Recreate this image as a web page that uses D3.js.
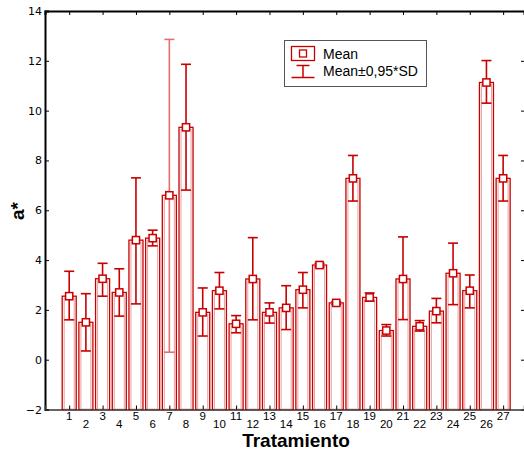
<!DOCTYPE html>
<html>
<head>
<meta charset="utf-8">
<script src="https://cdn.jsdelivr.net/npm/d3@7"></script>
<style>
  body { margin: 0; background: #fff; }
  svg { display: block; }
</style>
</head>
<body>
<div id="chart"></div>
<script>
// values
var tratamientos = d3.range(1, 28);
var means = [2.55, 1.5, 3.25, 2.7, 4.8, 4.88, 6.6, 9.33, 1.9, 2.77,
             1.44, 3.24, 1.9, 2.08, 2.81, 3.8, 2.28, 7.28, 2.5, 1.17,
             3.24, 1.34, 1.95, 3.47, 2.77, 11.13, 7.28];
var lower = [1.6, 0.35, 2.55, 1.75, 2.24, 4.57, 0.3, 6.81, 0.95, 2.04,
             1.08, 1.6, 1.47, 1.21, 2.08, 3.73, 2.22, 6.37, 2.35, 0.95,
             1.61, 1.15, 1.48, 2.21, 2.08, 10.3, 6.37];
var upper = [3.55, 2.65, 3.87, 3.65, 7.3, 5.2, 12.86, 11.86, 2.88, 3.5,
             1.77, 4.9, 2.28, 2.97, 3.5, 3.87, 2.33, 8.2, 2.68, 1.41,
             4.93, 1.57, 2.46, 4.68, 3.4, 12.01, 8.2];
var yTicks = [-2, 0, 2, 4, 6, 8, 10, 12, 14];

var svgWidth = 524;
var svgHeight = 454;
var margin = { top: 11, right: 0, bottom: 44.5, left: 45 };
var width = svgWidth - margin.left - margin.right;
var height = svgHeight - margin.top - margin.bottom;

var red = "#c80000";

var data = tratamientos.map(function(t, i) {
  return { t: t, mean: means[i], lo: lower[i], hi: upper[i] };
});

var svg = d3.select("#chart")
  .append("svg")
  .attr("width", svgWidth)
  .attr("height", svgHeight);

var chartGroup = svg.append("g")
  .attr("transform", `translate(${margin.left}, ${margin.top})`);

var xScale = d3.scaleLinear()
  .domain([-0.45, 28.25])
  .range([0, width]);

var yScale = d3.scaleLinear()
  .domain([-2, 14])
  .range([height, 0]);

var step = xScale(2) - xScale(1);
var barW = step * 0.84;

// bars: outer dark outline with a pale inner line
var bars = chartGroup.append("g").attr("class", "bars")
  .selectAll("g")
  .data(data)
  .enter()
  .append("g");

bars.append("rect")
  .attr("x", d => xScale(d.t) - barW / 2)
  .attr("y", d => yScale(d.mean))
  .attr("width", barW)
  .attr("height", d => yScale(-2) - yScale(d.mean))
  .attr("fill", "white")
  .attr("stroke", red)
  .attr("stroke-width", 1.3);

bars.append("rect")
  .attr("x", d => xScale(d.t) - barW / 2 + 2)
  .attr("y", d => yScale(d.mean) + 2)
  .attr("width", barW - 4)
  .attr("height", d => yScale(-2) - yScale(d.mean) - 2)
  .attr("fill", "none")
  .attr("stroke", "#eaa0a0")
  .attr("stroke-width", 1);

// error bars
var errs = chartGroup.append("g").attr("class", "errors")
  .selectAll("g")
  .data(data)
  .enter()
  .append("g")
  .attr("stroke", red)
  .attr("stroke-width", 1.6)
  .attr("opacity", d => d.t === 7 ? 0.55 : 1);

errs.append("line")
  .attr("x1", d => xScale(d.t))
  .attr("x2", d => xScale(d.t))
  .attr("y1", d => yScale(d.hi))
  .attr("y2", d => yScale(d.lo));

errs.append("line")
  .attr("x1", d => xScale(d.t) - 5)
  .attr("x2", d => xScale(d.t) + 5)
  .attr("y1", d => yScale(d.hi))
  .attr("y2", d => yScale(d.hi));

errs.append("line")
  .attr("x1", d => xScale(d.t) - 5)
  .attr("x2", d => xScale(d.t) + 5)
  .attr("y1", d => yScale(d.lo))
  .attr("y2", d => yScale(d.lo));

// mean markers
chartGroup.append("g").attr("class", "means")
  .selectAll("rect")
  .data(data)
  .enter()
  .append("rect")
  .attr("x", d => xScale(d.t) - 3.6)
  .attr("y", d => yScale(d.mean) - 3.6)
  .attr("width", 7.2)
  .attr("height", 7.2)
  .attr("fill", "white")
  .attr("stroke", red)
  .attr("stroke-width", 1.5);

// axes
var oddTicks = tratamientos.filter(t => t % 2 === 1);

var leftAxis = d3.axisLeft(yScale).tickValues(yTicks).tickSize(-4).tickPadding(6);
var rightAxis = d3.axisRight(yScale).tickValues(yTicks).tickSize(-3).tickFormat("");
var topAxis = d3.axisTop(xScale).tickValues(oddTicks).tickSize(-4).tickFormat("");
var bottomAxis = d3.axisBottom(xScale).tickValues(oddTicks).tickSize(-4).tickFormat("");

var gLeft = chartGroup.append("g").attr("class", "leftAxis").call(leftAxis);
gLeft.select(".domain").attr("stroke", "#000").attr("stroke-width", 2);
gLeft.selectAll("text")
  .attr("font-family", "DejaVu Sans")
  .attr("font-size", "11px")
  .attr("fill", "#000")
  .attr("x", -3);

chartGroup.append("g").attr("class", "rightAxis")
  .attr("transform", `translate(${width}, 0)`)
  .call(rightAxis)
  .select(".domain").remove();

var gTop = chartGroup.append("g").attr("class", "topAxis").call(topAxis);
gTop.select(".domain").attr("stroke", "#000").attr("stroke-width", 2);

var gBottom = chartGroup.append("g").attr("class", "bottomAxis")
  .attr("transform", `translate(0, ${height})`)
  .call(bottomAxis);
gBottom.select(".domain").attr("stroke", "#333").attr("stroke-width", 1.5);

// staggered category labels
chartGroup.append("g").attr("class", "xLabels")
  .selectAll("text")
  .data(tratamientos)
  .enter()
  .append("text")
  .attr("x", d => xScale(d))
  .attr("y", d => height + (d % 2 === 1 ? 10 : 18))
  .attr("text-anchor", "middle")
  .attr("font-family", "Liberation Sans")
  .attr("font-size", "11.5px")
  .attr("fill", "#000")
  .text(d => d);

// axis titles
chartGroup.append("text")
  .attr("x", 296 - margin.left)
  .attr("y", height + 37)
  .attr("text-anchor", "middle")
  .attr("font-family", "Liberation Sans")
  .attr("font-weight", "bold")
  .attr("font-size", "19px")
  .attr("fill", "#000")
  .text("Tratamiento");

chartGroup.append("text")
  .attr("transform", `translate(${24 - margin.left}, ${211 - margin.top}) rotate(-90)`)
  .attr("text-anchor", "middle")
  .attr("font-family", "Liberation Sans")
  .attr("font-weight", "bold")
  .attr("font-size", "19px")
  .attr("fill", "#000")
  .text("a*");

// legend
var legend = svg.append("g").attr("class", "legend")
  .attr("transform", "translate(284.5, 40.5)");

legend.append("rect")
  .attr("width", 142)
  .attr("height", 46)
  .attr("fill", "white")
  .attr("stroke", "#555")
  .attr("stroke-width", 1);

legend.append("rect")
  .attr("x", 7).attr("y", 6)
  .attr("width", 23).attr("height", 14)
  .attr("fill", "white")
  .attr("stroke", red)
  .attr("stroke-width", 1.3);

legend.append("rect")
  .attr("x", 15).attr("y", 9.5)
  .attr("width", 7).attr("height", 7)
  .attr("fill", "white")
  .attr("stroke", red)
  .attr("stroke-width", 1.3);

var errSym = legend.append("g").attr("stroke", red).attr("stroke-width", 1.5);
errSym.append("line").attr("x1", 12).attr("x2", 25).attr("y1", 25).attr("y2", 25);
errSym.append("line").attr("x1", 18.5).attr("x2", 18.5).attr("y1", 25).attr("y2", 37);
errSym.append("line").attr("x1", 7).attr("x2", 30).attr("y1", 37).attr("y2", 37);

legend.append("text")
  .attr("x", 38.5).attr("y", 18)
  .attr("font-family", "Liberation Sans")
  .attr("font-size", "14px")
  .attr("fill", "#000")
  .text("Mean");

legend.append("text")
  .attr("x", 38.5).attr("y", 35)
  .attr("font-family", "Liberation Sans")
  .attr("font-size", "14px")
  .attr("fill", "#000")
  .text("Mean±0,95*SD");
</script>
</body>
</html>
